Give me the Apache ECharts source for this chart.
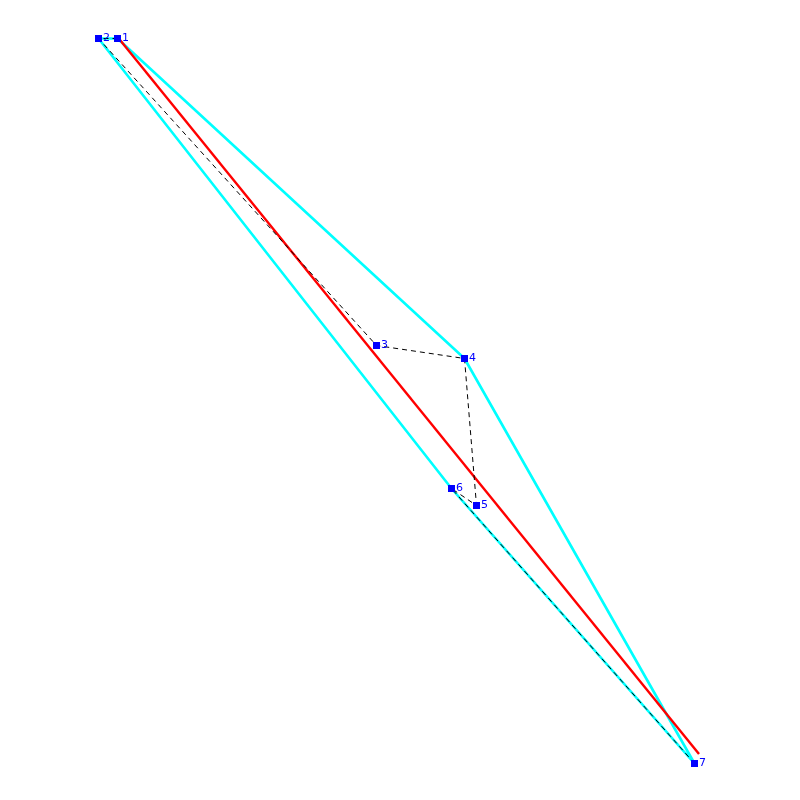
<!DOCTYPE html>
<html>
<head>
<meta charset="utf-8">
<style>
  html, body { margin: 0; padding: 0; background: #fff; }
  #main { width: 800px; height: 800px; }
</style>
<script src="https://cdn.jsdelivr.net/npm/echarts@6/dist/echarts.min.js"></script>
</head>
<body>
<div id="main"></div>
<script>
// points
const pointNames = ['1', '2', '3', '4', '5', '6', '7'];
const pointX = [117.5, 98.5, 376.5, 464.5, 476.5, 451.5, 694.5];
const pointY = [38.5, 38.5, 345.5, 358.5, 505.5, 488.5, 763.5];
// order of points around the hull
const hullOrder = [0, 3, 6, 5, 1, 0];
// fitted line ends
const fitX = [120, 699];
const fitY = [40, 754];

const points = pointNames.map((name, i) => [pointX[i], pointY[i], name]);
const hull = hullOrder.map((i) => [pointX[i], pointY[i]]);
const fit = fitX.map((x, i) => [x, fitY[i]]);

const myChart = echarts.init(document.getElementById('main'));
myChart.setOption({
  animation: false,
  backgroundColor: '#ffffff',
  grid: { left: 0, right: 0, top: 0, bottom: 0 },
  xAxis: { type: 'value', min: 0, max: 800, show: false },
  yAxis: { type: 'value', min: 0, max: 800, inverse: true, show: false },
  series: [
    {
      name: 'hull',
      type: 'line',
      data: hull,
      showSymbol: false,
      lineStyle: { color: '#00ffff', width: 2.6 },
      z: 2
    },
    {
      name: 'fit',
      type: 'line',
      data: fit,
      showSymbol: false,
      lineStyle: { color: '#ff0000', width: 2.4 },
      z: 3
    },
    {
      name: 'path',
      type: 'line',
      data: points,
      showSymbol: false,
      lineStyle: { color: '#000000', width: 1, type: [5, 4] },
      z: 4
    },
    {
      name: 'points',
      type: 'scatter',
      data: points,
      symbol: 'rect',
      symbolSize: 7,
      itemStyle: { color: '#0000ff', opacity: 1 },
      label: {
        show: true,
        position: 'right',
        distance: 1,
        color: '#0000ff',
        fontFamily: 'DejaVu Sans',
        fontSize: 11,
        formatter: (p) => p.data[2]
      },
      z: 5
    }
  ]
});
</script>
</body>
</html>
